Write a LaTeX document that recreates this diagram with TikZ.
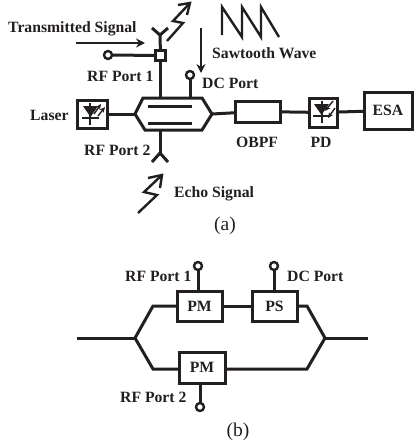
\documentclass[tikz,border=0pt]{standalone}
\usepackage{fontspec}
\setmainfont{Liberation Serif}
\usetikzlibrary{arrows.meta}
\definecolor{ink}{HTML}{231F20}
\tikzset{
  x=1pt,y=-1pt,
  wire/.style={draw=ink,line width=3pt,line join=miter},
  heavybox/.style={draw=ink,line width=3pt,fill=white,inner sep=0pt,outer sep=0pt,font=\fontsize{15.7}{16}\selectfont\bfseries,text=ink},
  lbl/.style={inner sep=0pt,text=ink,font=\fontsize{15.7}{16}\selectfont\bfseries},
  figcap/.style={inner sep=0pt,text=ink,font=\fontsize{19.5}{20}\selectfont},
  portc/.style={circle,draw=ink,line width=2.4pt,fill=white,minimum size=8pt,inner sep=0pt,outer sep=0pt},
  bigarrow/.style={draw=ink,line width=2.2pt,-{Stealth[length=9pt,width=9pt]}},
  bolt/.style={draw=ink,line width=2.4pt,line join=miter},
}
\begin{document}
\begin{tikzpicture}
\useasboundingbox (0,0) rectangle (418,448);
% (a) nodes
\node[heavybox,minimum width=30pt,minimum height=28pt] (laser) at (92,114) {};
\node[heavybox,minimum width=45pt,minimum height=21pt] (obpf) at (257.5,111.5) {};
\node[heavybox,minimum width=28pt,minimum height=29pt] (pd) at (323,112.5) {};
\node[heavybox,minimum width=48pt,minimum height=37pt] (esa) at (388,110.5) {ESA};
\coordinate (mzL) at (135,114);
\coordinate (mzR) at (212,114);
\coordinate (mzT) at (160,98);
\coordinate (mzB) at (160,130);
\coordinate (mzD) at (190,98);
\node[portc] (dc) at (190,75) {};
\node[portc] (rf1) at (108,55) {};
\node[draw=ink,line width=2.4pt,fill=white,minimum size=10pt,inner sep=0pt,outer sep=0pt] (coup) at (160.5,55.5) {};
\coordinate (antT) at (160,35);
\coordinate (antB) at (160,153);
% (a) wires
\draw[wire] (143,98) -- (202,98) -- (mzR) -- (202,130) -- (145,130) -- (mzL) -- cycle;
\draw[wire] (148,106) -- (192,106);
\draw[wire] (148,123.5) -- (192,123.5);
\draw[wire] (laser) -- (mzL);
\draw[wire] (mzR) -- (obpf);
\draw[wire] (obpf) -- (pd);
\draw[wire] (pd) -- (esa);
\draw[wire] (dc) -- (mzD);
\draw[wire] (rf1) -- (coup);
\draw[wire] (coup) -- (coup |- mzT);
\draw[wire] (coup) -- (antT);
\draw[wire] (152,28) -- (antT) -- (168,28);
\draw[wire] (mzB) -- (antB);
\draw[wire] (152,162) -- (antB) -- (168,162);
% bolts
\draw[bolt] (167,41) -- (183,23) -- (173,21) -- (190,3);
\draw[bolt] (178,5) -- (190,3) -- (187,15);
\draw[bolt] (138,213) -- (157,195) -- (144,192) -- (162,175);
\draw[bolt] (148,178) -- (162,175) -- (160,188);
% arrows and sawtooth
\draw[bigarrow] (76,43) -- (145,43);
\draw[bigarrow] (201,28) -- (201,73);
\draw[bolt] (222,35) -- (222,7) -- (242,37) -- (242,7) -- (261,37) -- (261,7) -- (279,37);
% laser diode
\fill[ink] (83,106) -- (98,106) -- (90.5,117) -- cycle;
\draw[line width=2pt,ink] (82,118) -- (99,118);
\draw[line width=2pt,ink] (90,103) -- (90,125);
\draw[line width=1.4pt,ink,-{Stealth[length=5.5pt,width=5pt]}] (94,114) -- (101,104);
\draw[line width=1.4pt,ink,-{Stealth[length=5.5pt,width=5pt]}] (98,116) -- (105,107);
% photodiode
\fill[ink] (314,104) -- (329,104) -- (321.5,115) -- cycle;
\draw[line width=2pt,ink] (313,116) -- (330,116);
\draw[line width=2pt,ink] (321.5,101) -- (321.5,123);
\draw[line width=1.4pt,ink,-{Stealth[length=5.5pt,width=5pt]}] (333,101) -- (325,111);
\draw[line width=1.4pt,ink,-{Stealth[length=5.5pt,width=5pt]}] (335,108) -- (328,118);
% (a) labels
\node[lbl,anchor=west] at (8,29) {Transmitted Signal};
\node[lbl,anchor=west] at (87,76.5) {RF Port 1};
\node[lbl,anchor=west] at (212,53) {Sawtooth Wave};
\node[lbl,anchor=west] at (202,83.5) {DC Port};
\node[lbl,anchor=west] at (30,115.5) {Laser};
\node[lbl] at (257,142) {OBPF};
\node[lbl] at (321,142) {PD};
\node[lbl,anchor=west] at (84,150.5) {RF Port 2};
\node[lbl,anchor=west] at (174,194) {Echo Signal};
\node[figcap] at (225,226) {(a)};
% (b) nodes
\node[heavybox,minimum width=45pt,minimum height=30pt] (pm1) at (199.5,306) {PM};
\node[heavybox,minimum width=45pt,minimum height=30pt] (ps) at (274.5,306) {PS};
\node[heavybox,minimum width=46pt,minimum height=31pt] (pm2) at (202,367.5) {PM};
\node[portc] (p1) at (198,266) {};
\node[portc] (p2) at (274,266) {};
\node[portc] (p3) at (200,407) {};
\coordinate (inL) at (77,338);
\coordinate (jL) at (135,338);
\coordinate (jR) at (325,338);
\coordinate (outR) at (368,338);
% (b) wires
\draw[wire] (inL) -- (jL);
\draw[wire] (jR) -- (outR);
\draw[wire] (jL) -- (153,306) -- (pm1);
\draw[wire] (pm1) -- (ps);
\draw[wire] (ps) -- (307,306) -- (jR);
\draw[wire] (jL) -- (153,369) -- (pm2.west |- 0,369);
\draw[wire] (pm2.east |- 0,369) -- (307,369) -- (jR);
\draw[wire] (p1) -- (p1 |- pm1.north);
\draw[wire] (p2) -- (p2 |- ps.north);
\draw[wire] (p3) -- (p3 |- pm2.south);
% (b) labels
\node[lbl,anchor=west] at (125,276.5) {RF Port 1};
\node[lbl,anchor=west] at (287,276.5) {DC Port};
\node[lbl,anchor=west] at (120,397.5) {RF Port 2};
\node[figcap] at (238,432) {(b)};
\end{tikzpicture}
\end{document}
